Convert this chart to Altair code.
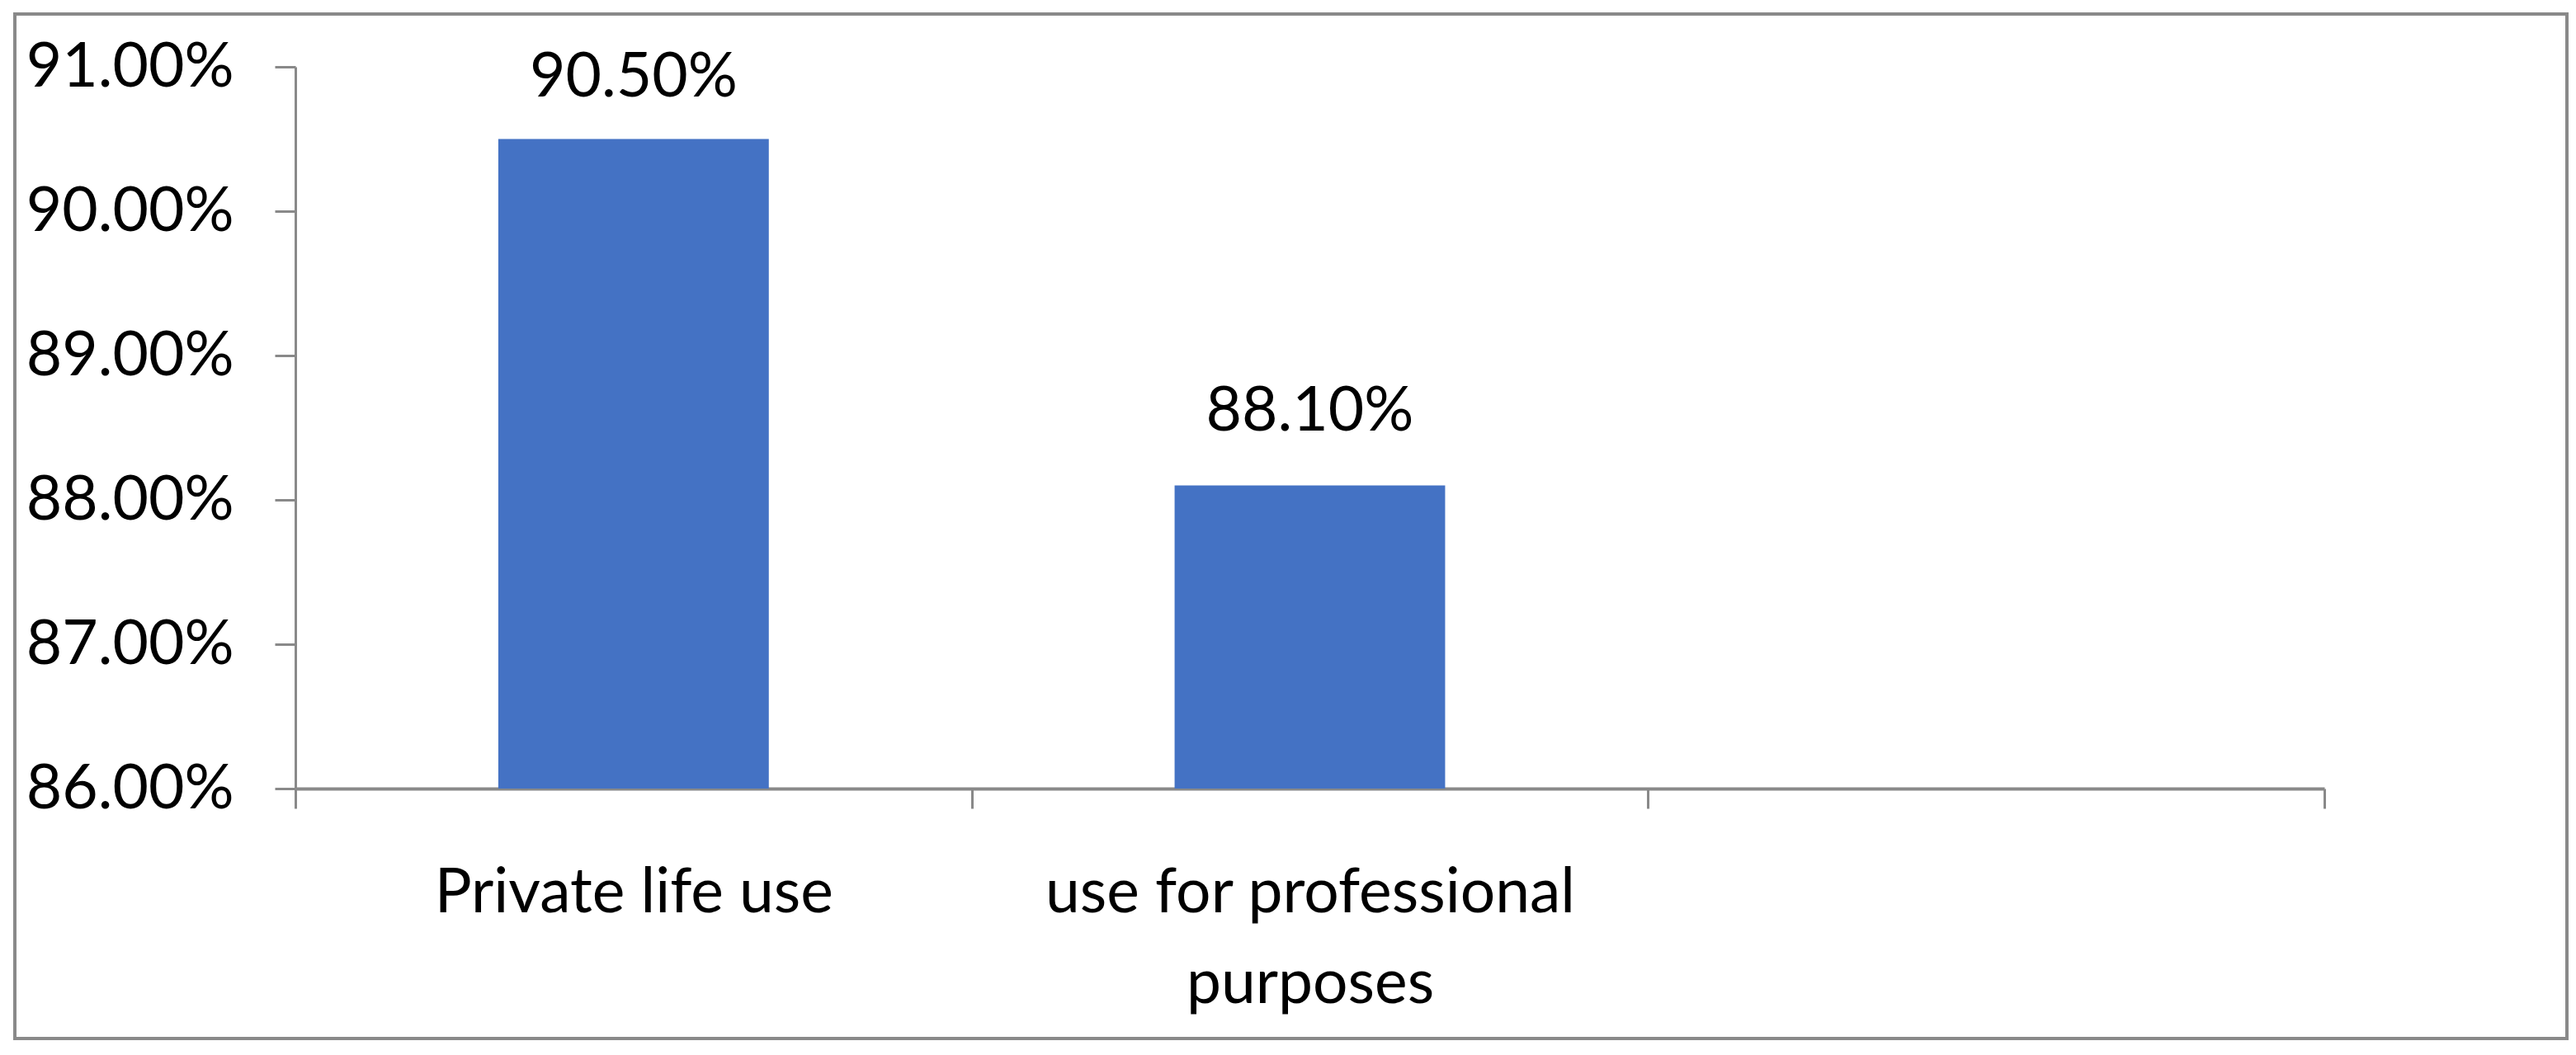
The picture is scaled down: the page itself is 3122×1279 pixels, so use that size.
import json
import altair as alt
import pandas as pd

# ---- data ----
categories = ["Private life use", "use for professional purposes", ""]
values = [0.905, 0.881, None]
y_ticks = [0.86, 0.87, 0.88, 0.89, 0.90, 0.91]
wrapped_labels = {"use for professional purposes": ["use for professional", "purposes"]}

df = pd.DataFrame({"category": categories, "value": values})

FONT = "Lato"
FS = 75
GRAY = "#898989"
BAR = "#4472C4"

# label expression that wraps long category names and keeps others as is
expr = "datum.value"
for k, v in wrapped_labels.items():
    expr = f"datum.value == {json.dumps(k)} ? {json.dumps(v)} : ({expr})"

x_enc = alt.X(
    "category:N",
    sort=categories,
    scale=alt.Scale(domain=categories, paddingInner=0, paddingOuter=0),
    axis=alt.Axis(
        title=None, labelAngle=0, tickBand="extent", grid=False,
        domainColor=GRAY, domainWidth=4, tickColor=GRAY, tickWidth=3, tickSize=24,
        labelFont=FONT, labelFontSize=FS, labelColor="black", labelPadding=66,
        labelLineHeight=110, labelLimit=2000, labelOverlap=False, labelExpr=expr,
    ),
)
y_enc = alt.Y(
    "value:Q",
    scale=alt.Scale(domain=[0.86, 0.91], zero=False, nice=False),
    axis=alt.Axis(
        title=None, values=y_ticks, format=".2%", grid=False,
        domainColor=GRAY, domainWidth=3, tickColor=GRAY, tickWidth=3, tickSize=25,
        labelFont=FONT, labelFontSize=FS, labelColor="black", labelPadding=50,
        labelLimit=2000, labelFlush=False, labelOverlap=False,
    ),
)

bars = alt.Chart(df).mark_bar(
    color=BAR, width=alt.RelativeBandSize(0.4)
).encode(
    x=x_enc, y=y_enc, y2=alt.datum(0.86)
)

labels = alt.Chart(df).transform_filter(
    "isValid(datum.value)"
).transform_calculate(
    label_y="min(datum.value, 0.9041)"
).mark_text(
    baseline="alphabetic", dy=-67, font=FONT, fontSize=FS, color="black"
).encode(
    x=alt.X("category:N", sort=categories),
    y=alt.Y("label_y:Q"),
    text=alt.Text("value:Q", format=".2%"),
)

border = alt.Chart(pd.DataFrame({"b": [0]})).mark_rect(
    filled=False, stroke=GRAY, strokeWidth=4
).encode(
    x=alt.value(-340), x2=alt.value(2753), y=alt.value(-64), y2=alt.value(1178)
)

chart = alt.layer(border, bars, labels).properties(
    width=2459,
    height=875,
    autosize=alt.AutoSizeParams(type="none"),
    padding={"left": 350, "top": 73, "right": 297, "bottom": 310},
    background="white",
).configure_view(strokeWidth=0)

chart.save("out.html", embed_options={"renderer": "svg", "actions": False})
